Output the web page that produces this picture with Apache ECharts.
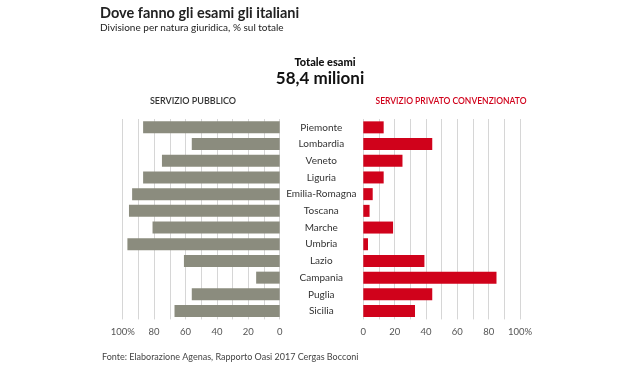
<!DOCTYPE html>
<html><head><meta charset="utf-8">
<script src="https://cdn.jsdelivr.net/npm/echarts@6/dist/echarts.min.js"></script>
<style>html,body{margin:0;padding:0;background:#fff}#c{width:638px;height:374px}</style>
</head><body><div id="c"></div>
<script>
const regions = ['Piemonte','Lombardia','Veneto','Liguria','Emilia-Romagna','Toscana','Marche','Umbria','Lazio','Campania','Puglia','Sicilia'];
const pubblico = [87,56,75,87,94,96,81,97,61,15,56,67];
const privato = [13,44,25,13,6,4,19,3,39,85,44,33];
const tickValues = [0,20,40,60,80,100];

const FONT = 'Lato';
const fmt = v => tickValues.indexOf(v) >= 0 ? (v === 100 ? '100%' : String(v)) : '';
const chart = echarts.init(document.getElementById('c'), null, {renderer:'canvas'});
const gridLine = {show:true, lineStyle:{color:'#d6d6d6', width:1}};
const axisLbl = {show:true, formatter: fmt, color:'#555', fontFamily:FONT, fontSize:9.5, margin:8, showMinLabel:true, showMaxLabel:true};
chart.setOption({
  animation:false,
  textStyle:{fontFamily:FONT},
  title:[
    {text:'Dove fanno gli esami gli italiani', left:95, top:1, padding:5, textStyle:{fontFamily:FONT, fontSize:14.5, fontWeight:'bold', color:'#222'}},
    {text:'Divisione per natura giuridica, % sul totale', left:95, top:18, textStyle:{fontFamily:FONT, fontSize:10, fontWeight:'normal', color:'#222'}},
    {text:'Totale esami', left:320, textAlign:'center', top:52, textStyle:{fontFamily:FONT, fontSize:11, fontWeight:900, color:'#111'}},
    {text:'58,4 milioni', left:315, textAlign:'center', top:65, textStyle:{fontFamily:FONT, fontSize:17, fontWeight:'bold', color:'#111'}},
    {text:'SERVIZIO PUBBLICO', left:188, textAlign:'center', top:92, textStyle:{fontFamily:FONT, fontSize:9, fontWeight:600, color:'#333'}},
    {text:'SERVIZIO PRIVATO CONVENZIONATO', left:446, textAlign:'center', top:92, textStyle:{fontFamily:FONT, fontSize:8.5, fontWeight:600, color:'#d0021b'}},
    {text:'Fonte: Elaborazione Agenas, Rapporto Oasi 2017 Cergas Bocconi', left:97, top:348, textStyle:{fontFamily:FONT, fontSize:9, fontWeight:'normal', color:'#444'}}
  ],
  grid:[
    {left:122.7, width:157, top:119, height:200.4},
    {left:363.3, width:156.7, top:119, height:200.4}
  ],
  xAxis:[
    {gridIndex:0, type:'value', min:0, max:100, interval:10, inverse:true, axisLine:{show:false}, axisTick:{show:false}, splitLine:gridLine, axisLabel:axisLbl},
    {gridIndex:1, type:'value', min:0, max:100, interval:10, axisLine:{show:false}, axisTick:{show:false}, splitLine:gridLine, axisLabel:axisLbl}
  ],
  yAxis:[
    {gridIndex:0, type:'category', data:regions, inverse:true, position:'right', axisLine:{show:false}, axisTick:{show:false}, axisLabel:{show:false}},
    {gridIndex:1, type:'category', data:regions, inverse:true, position:'left', axisLine:{show:false}, axisTick:{show:false},
      axisLabel:{show:true, align:'center', margin:42, color:'#333', fontFamily:FONT, fontSize:10}}
  ],
  series:[
    {type:'bar', xAxisIndex:0, yAxisIndex:0, data:pubblico, barWidth:12, itemStyle:{color:'#8b8c7e'}},
    {type:'bar', xAxisIndex:1, yAxisIndex:1, data:privato, barWidth:12, itemStyle:{color:'#d0021b'}}
  ]
});
</script></body></html>
